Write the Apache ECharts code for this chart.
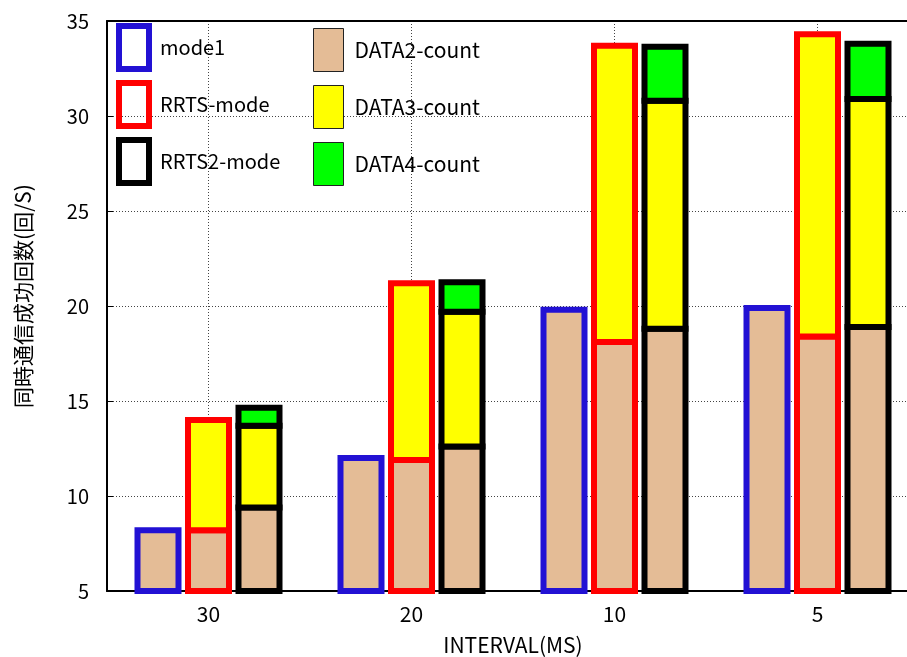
<!DOCTYPE html>
<html>
<head>
<meta charset="utf-8">
<script src="https://cdn.jsdelivr.net/npm/echarts@6/dist/echarts.min.js"></script>
<style>
  html, body { margin: 0; padding: 0; background: #fff; overflow: hidden; }
  #chart { width: 907px; height: 657px; }
</style>
</head>
<body>
<div id="chart"></div>
<script>
// Categories along the x axis (interval in ms)
const categories = ['30', '20', '10', '5'];

// Stacked segment values for each mode
const mode1Data2 = [8.2, 12.0, 19.8, 19.9];
const rrtsData2 = [8.2, 11.9, 18.1, 18.4];
const rrtsData3 = [5.8, 9.3, 15.6, 15.9];
const rrts2Data2 = [9.4, 12.6, 18.8, 18.9];
const rrts2Data3 = [4.3, 7.1, 12.0, 12.0];
const rrts2Data4 = [0.95, 1.55, 2.85, 2.9];

// Value axis range
const yMin = 5;
const yMax = 35;
const yStep = 5;

const FONT = 'Noto Sans CJK JP';
const BLUE = '#2211d4';
const RED = '#ff0000';
const BLACK = '#000000';
const TAN = '#e4bc96';
const YELLOW = '#ffff00';
const GREEN = '#00ff00';
const SEGMENT_FILL = [TAN, YELLOW, GREEN];

// Bar geometry inside one category band
const BAR_WIDTH = 41;
const BAR_PITCH = 50.5;
const EDGE_WIDTH = 6;

// Turn a list of segment arrays into [category, from, to, segment] items
function stackItems(segments) {
  const items = [];
  categories.forEach(function (c, i) {
    let base = 0;
    segments.forEach(function (seg, s) {
      items.push([i, base, base + seg[i], s]);
      base += seg[i];
    });
  });
  return items;
}

// One custom series per mode: outlined stacked columns with a centred edge
function modeSeries(name, slot, edge, segments) {
  return {
    type: 'custom',
    name: name,
    data: stackItems(segments),
    encode: { x: 0, y: [1, 2] },
    silent: true,
    renderItem: function (params, api) {
      const cat = api.value(0);
      const lo = api.coord([cat, api.value(1)]);
      const hi = api.coord([cat, api.value(2)]);
      const cx = lo[0] + (slot - 1) * BAR_PITCH;
      const rect = echarts.graphic.clipRectByRect({
        x: cx - BAR_WIDTH / 2,
        y: hi[1],
        width: BAR_WIDTH,
        height: lo[1] - hi[1]
      }, {
        x: params.coordSys.x,
        y: params.coordSys.y,
        width: params.coordSys.width,
        height: params.coordSys.height
      });
      if (!rect) return null;
      return {
        type: 'rect',
        shape: rect,
        style: {
          fill: SEGMENT_FILL[api.value(3)],
          stroke: edge,
          lineWidth: EDGE_WIDTH
        }
      };
    }
  };
}

const dottedGrid = { type: [1, 2], color: '#444', width: 1 };

const legendText = function (size) {
  return { fontSize: size, fontFamily: FONT, color: '#000', padding: [0, 0, 0, 6] };
};

const chart = echarts.init(document.getElementById('chart'), null, { renderer: 'canvas' });

chart.setOption({
  animation: false,
  textStyle: { fontFamily: FONT, color: '#000' },
  // the plot runs past the right edge of the canvas, so bounds are not clamped
  grid: { left: 107, width: 812, top: 21, bottom: 66, outerBoundsMode: 'none', containLabel: false },
  legend: [
    {
      orient: 'vertical', left: 116, top: 23, padding: 0,
      itemWidth: 30, itemHeight: 43, itemGap: 8,
      selectedMode: false,
      textStyle: legendText(20),
      data: [
        { name: 'mode1', icon: 'rect', itemStyle: { color: 'transparent', borderColor: BLUE, borderWidth: 6, opacity: 1 } },
        { name: 'RRTS-mode', icon: 'rect', itemStyle: { color: 'transparent', borderColor: RED, borderWidth: 6, opacity: 1 } },
        { name: 'RRTS2-mode', icon: 'rect', itemStyle: { color: 'transparent', borderColor: BLACK, borderWidth: 6, opacity: 1 } }
      ]
    },
    {
      orient: 'vertical', left: 313, top: 28, padding: 0,
      itemWidth: 30, itemHeight: 43, itemGap: 13,
      selectedMode: false,
      textStyle: legendText(21),
      data: [
        { name: 'DATA2-count', icon: 'rect', itemStyle: { color: TAN, borderColor: '#222', borderWidth: 1, opacity: 1 } },
        { name: 'DATA3-count', icon: 'rect', itemStyle: { color: YELLOW, borderColor: '#222', borderWidth: 1, opacity: 1 } },
        { name: 'DATA4-count', icon: 'rect', itemStyle: { color: GREEN, borderColor: '#222', borderWidth: 1, opacity: 1 } }
      ]
    }
  ],
  xAxis: [
    {
      type: 'category',
      data: categories,
      position: 'bottom',
      name: 'INTERVAL(MS)',
      nameLocation: 'middle',
      nameGap: 44,
      nameTextStyle: { fontSize: 21, color: '#000', fontFamily: FONT },
      axisLine: { lineStyle: { color: '#000', width: 2 } },
      axisTick: { inside: true, length: 5, lineStyle: { color: '#000', width: 1 } },
      axisLabel: { fontSize: 21, color: '#000', margin: 13, fontFamily: FONT },
      splitLine: { show: true, alignWithLabel: true, lineStyle: dottedGrid }
    },
    {
      type: 'category',
      data: categories,
      position: 'top',
      axisLine: { lineStyle: { color: '#000', width: 2 } },
      axisTick: { inside: true, length: 5, lineStyle: { color: '#000', width: 1 } },
      axisLabel: { show: false },
      splitLine: { show: false }
    }
  ],
  yAxis: {
    type: 'value',
    min: yMin, max: yMax, interval: yStep,
    name: '同時通信成功回数(回/S)',
    nameLocation: 'middle',
    nameGap: 73,
    nameRotate: 90,
    nameTextStyle: { fontSize: 21, color: '#000', fontFamily: FONT, padding: [0, 0, 0, 20] },
    axisLine: { show: true, lineStyle: { color: '#000', width: 2 } },
    axisTick: { show: true, inside: true, length: 6, lineStyle: { color: '#000', width: 1 } },
    axisLabel: { fontSize: 20, color: '#000', margin: 18, fontFamily: FONT },
    splitLine: { show: true, lineStyle: dottedGrid }
  },
  series: [
    modeSeries('mode1', 0, BLUE, [mode1Data2]),
    modeSeries('RRTS-mode', 1, RED, [rrtsData2, rrtsData3]),
    modeSeries('RRTS2-mode', 2, BLACK, [rrts2Data2, rrts2Data3, rrts2Data4]),
    { type: 'scatter', name: 'DATA2-count', data: [] },
    { type: 'scatter', name: 'DATA3-count', data: [] },
    { type: 'scatter', name: 'DATA4-count', data: [] }
  ]
});
</script>
</body>
</html>
